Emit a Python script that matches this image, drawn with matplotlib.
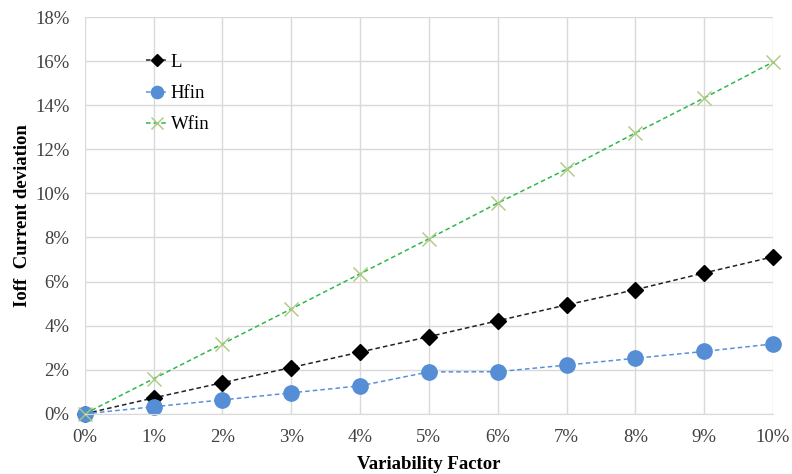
import numpy as np
from matplotlib import pyplot as plt
from matplotlib.ticker import FuncFormatter

plt.rcParams['font.family'] = ['Liberation Serif', 'DejaVu Serif']

x = [0, 1, 2, 3, 4, 5, 6, 7, 8, 9, 10]
L = [0, 0.72, 1.41, 2.1, 2.8, 3.5, 4.22, 4.94, 5.63, 6.39, 7.12]
Hfin = [0, 0.32, 0.63, 0.95, 1.27, 1.9, 1.91, 2.21, 2.52, 2.83, 3.17]
Wfin = [0, 1.59, 3.17, 4.76, 6.35, 7.94, 9.56, 11.1, 12.74, 14.33, 15.96]

fig = plt.figure(figsize=(7.92, 4.74), dpi=100)
ax = fig.add_axes([0.107, 0.127, 0.869, 0.837])

ax.plot(x, L, '--', color='#222222', lw=1.1, marker='D', ms=8,
        markerfacecolor='black', markeredgecolor='black', label='L', dashes=(3, 2))
ax.plot(x, Hfin, '--', color='#5B8FDB', lw=1.1, marker='o', ms=11,
        markerfacecolor='#558ED5', markeredgecolor='#558ED5', label='Hfin', dashes=(3, 2))
ax.plot(x, Wfin, '--', color='#2DB84D', lw=1.1, marker='x', ms=10, mew=1.0,
        markeredgecolor='#A9C97E', label='Wfin', dashes=(3, 2))

ax.set_xlim(0, 10)
ax.set_ylim(0, 18)
ax.set_xticks(range(0, 11))
ax.set_yticks(range(0, 19, 2))
ax.xaxis.set_major_formatter(FuncFormatter(lambda v, p: '%d%%' % v))
ax.yaxis.set_major_formatter(FuncFormatter(lambda v, p: '%d%%' % v))
ax.tick_params(labelsize=13.5, length=0, pad=11, colors='#404040')
ax.grid(True, color='#D9D9D9', lw=1)
ax.set_axisbelow(True)
for s in ax.spines.values():
    s.set_visible(False)
ax.spines['bottom'].set_visible(True)
ax.spines['bottom'].set_color('#D9D9D9')
for ln in ax.lines:
    ln.set_clip_on(False)

ax.set_xlabel('Variability Factor', fontsize=13.5, fontweight='bold', labelpad=7)
ax.set_ylabel('Ioff  Current deviation', fontsize=13.5, fontweight='bold', labelpad=3)

ax.legend(loc='upper left', bbox_to_anchor=(0.065, 0.95), frameon=False, fontsize=13.5,
          handlelength=1.1, labelspacing=0.75, markerscale=0.8, handletextpad=0.2)

fig.savefig('out.png', dpi=100)
